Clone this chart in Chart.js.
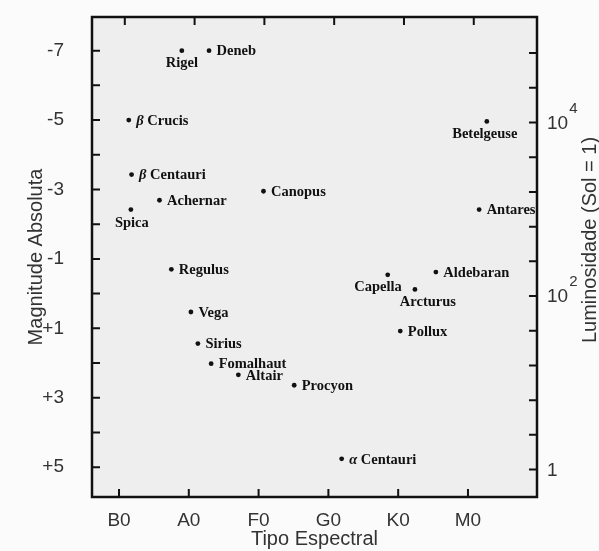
<!DOCTYPE html>
<html><head><meta charset="utf-8">
<script src="https://cdn.jsdelivr.net/npm/chart.js@4/dist/chart.umd.min.js"></script>
<style>html,body{margin:0;padding:0;background:#fbfbfb;} #wrap{width:599px;height:551px;position:relative}</style>
</head><body><div id="wrap"><canvas id="c" width="599" height="551"></canvas></div>
<script>
// ---- data ----
const stars = ['Rigel','Deneb','β Crucis','β Centauri','Achernar','Spica','Canopus','Betelgeuse','Antares','Regulus','Vega','Sirius','Fomalhaut','Altair','Procyon','Capella','Aldebaran','Arcturus','Pollux','α Centauri'];
// spectral position: 0 = B0, 1 = A0, 2 = F0, 3 = G0, 4 = K0, 5 = M0
const spectralPos = [0.90, 1.29, 0.14, 0.18, 0.58, 0.17, 2.07, 5.27, 5.16, 0.75, 1.03, 1.13, 1.32, 1.71, 2.51, 3.85, 4.54, 4.24, 4.03, 3.19];
const absMag = [-7.0, -7.0, -5.0, -3.43, -2.69, -2.42, -2.95, -4.96, -2.42, -0.70, 0.53, 1.44, 2.02, 2.34, 2.64, -0.54, -0.62, -0.12, 1.08, 4.76];
const spectralTicks = ['B0','A0','F0','G0','K0','M0'];
const magTickValues = [-7, -5, -3, -1, 1, 3, 5];
const magTickLabels = ['-7', '-5', '-3', '-1', '+1', '+3', '+5'];
const lumTickMags = [-5, 0, 5];
const lumTickBase = ['10', '10', '1'];
const lumTickExp = ['4', '2', ''];

// ---- label placement (style) ----
const labelPlacement = {
  'Rigel': ['center', 0, 13],
  'Spica': ['center', 1, 14],
  'Betelgeuse': ['center', -2, 13],
  'Capella': ['right', 14, 12.5],
  'Arcturus': ['center', 13, 13]
};
const defaultPlacement = ['left', 7.5, 1];

const SANS = '"Liberation Sans", Arial, sans-serif';
const SERIF = '"Liberation Serif", "Times New Roman", serif';
const axisColor = '#333';

const refPlugin = {
  id: 'ref',
  beforeDraw(chart) {
    const {ctx, chartArea: a} = chart;
    ctx.save();
    ctx.fillStyle = '#fbfbfb';
    ctx.fillRect(0, 0, chart.width, chart.height);
    ctx.fillStyle = '#eeeeee';
    ctx.fillRect(a.left, a.top, a.right - a.left, a.bottom - a.top);
    ctx.restore();
  },
  afterDraw(chart) {
    const {ctx, chartArea: a, scales} = chart;
    ctx.save();
    // inward ticks
    ctx.strokeStyle = '#111';
    ctx.lineWidth = 2;
    ctx.beginPath();
    for (let v = -7; v <= 5; v++) {
      const py = scales.y.getPixelForValue(v);
      ctx.moveTo(a.left, py); ctx.lineTo(a.left + 8, py);
      const py2 = scales.y2.getPixelForValue(v);
      ctx.moveTo(a.right, py2); ctx.lineTo(a.right - 8, py2);
    }
    spectralTicks.forEach((t, i) => {
      const px = scales.x.getPixelForValue(i);
      ctx.moveTo(px, a.bottom); ctx.lineTo(px, a.bottom - 8);
      const px2 = scales.x2.getPixelForValue(i);
      ctx.moveTo(px2, a.top); ctx.lineTo(px2, a.top + 8);
    });
    ctx.stroke();
    // frame
    ctx.lineWidth = 2.5;
    ctx.strokeRect(a.left, a.top, a.right - a.left, a.bottom - a.top);

    // star labels
    const meta = chart.getDatasetMeta(0);
    ctx.fillStyle = '#111';
    ctx.textBaseline = 'middle';
    const fs = 14.5;
    stars.forEach((name, i) => {
      const el = meta.data[i];
      const [align, dx, dy] = labelPlacement[name] || defaultPlacement;
      let greek = '', rest = name;
      if (/^[α-ω] /.test(name)) { greek = name[0]; rest = name.slice(1); }
      ctx.font = 'italic bold ' + fs + 'px ' + SERIF;
      const gw = greek ? ctx.measureText(greek).width : 0;
      ctx.font = 'bold ' + fs + 'px ' + SERIF;
      const rw = ctx.measureText(rest).width;
      const tw = gw + rw;
      let x0 = el.x + dx;
      if (align === 'center') x0 -= tw / 2;
      else if (align === 'right') x0 -= tw;
      const y0 = el.y + dy;
      ctx.textAlign = 'left';
      if (greek) {
        ctx.font = 'italic bold ' + fs + 'px ' + SERIF;
        ctx.fillText(greek, x0, y0);
      }
      ctx.font = 'bold ' + fs + 'px ' + SERIF;
      ctx.fillText(rest, x0 + gw, y0);
    });

    // right luminosity tick labels
    ctx.fillStyle = axisColor;
    ctx.textAlign = 'left';
    lumTickMags.forEach((m, i) => {
      const py = scales.y2.getPixelForValue(m);
      const x0 = a.right + 10;
      ctx.font = '19px ' + SANS;
      ctx.fillText(lumTickBase[i], x0, py + 1);
      const w = ctx.measureText(lumTickBase[i]).width;
      if (lumTickExp[i]) {
        ctx.font = '15px ' + SANS;
        ctx.fillText(lumTickExp[i], x0 + w + 1, py - 14);
      }
    });

    // right axis title (reads bottom-to-top)
    ctx.save();
    ctx.translate(590, 240);
    ctx.rotate(-Math.PI / 2);
    ctx.textAlign = 'center';
    ctx.textBaseline = 'middle';
    ctx.font = '20px ' + SANS;
    ctx.fillText('Luminosidade (Sol = 1)', 0, 0);
    ctx.restore();

    ctx.restore();
  }
};

const XMIN = -0.387, XMAX = 5.989, YMIN = -7.97, YMAX = 5.86;

function noPad(s) { s.paddingTop = 0; s.paddingBottom = 0; s.paddingLeft = 0; s.paddingRight = 0; }

new Chart(document.getElementById('c'), {
  type: 'scatter',
  data: {
    datasets: [{
      data: stars.map((n, i) => ({x: spectralPos[i], y: absMag[i]})),
      xAxisID: 'x', yAxisID: 'y',
      pointRadius: 2.4, pointHoverRadius: 2.4,
      backgroundColor: '#111', borderWidth: 0
    }]
  },
  options: {
    responsive: false, animation: false, devicePixelRatio: 1,
    layout: {padding: {top: 17, right: 62, bottom: 0, left: 0}},
    plugins: {legend: {display: false}, tooltip: {enabled: false}},
    events: [],
    scales: {
      x: {
        type: 'linear', position: 'bottom', min: XMIN, max: XMAX,
        afterFit(s) { s.height = 54; noPad(s); },
        afterBuildTicks(s) { s.ticks = spectralTicks.map((t, i) => ({value: i})); },
        ticks: {
          callback: (v) => spectralTicks[v] ?? '',
          padding: 4, maxRotation: 0, autoSkip: false,
          font: {family: SANS, size: 19}, color: axisColor
        },
        grid: {display: false}, border: {display: false},
        title: {display: true, text: 'Tipo Espectral', font: {family: SANS, size: 20}, color: axisColor, padding: {top: 0, bottom: 0}}
      },
      x2: {
        type: 'linear', position: 'top', display: false, min: XMIN - 0.083, max: XMAX - 0.083,
        afterFit(s) { noPad(s); }
      },
      y: {
        type: 'linear', position: 'left', reverse: true, min: YMIN, max: YMAX,
        afterFit(s) { s.width = 92; noPad(s); },
        afterBuildTicks(s) { const t = []; for (let v = -7; v <= 5; v++) t.push({value: v}); s.ticks = t; },
        ticks: {
          callback: (v) => { const k = magTickValues.indexOf(v); return k >= 0 ? magTickLabels[k] : ''; },
          padding: 20, autoSkip: false,
          font: {family: SANS, size: 19}, color: axisColor
        },
        grid: {display: false}, border: {display: false},
        title: {display: true, text: 'Magnitude Absoluta', font: {family: SANS, size: 20}, color: axisColor, padding: {top: 24, bottom: 0}}
      },
      y2: {
        type: 'linear', position: 'right', display: false, reverse: true, min: YMIN - 0.07, max: YMAX - 0.07,
        afterFit(s) { noPad(s); }
      }
    }
  },
  plugins: [refPlugin]
});
</script>
</body></html>
